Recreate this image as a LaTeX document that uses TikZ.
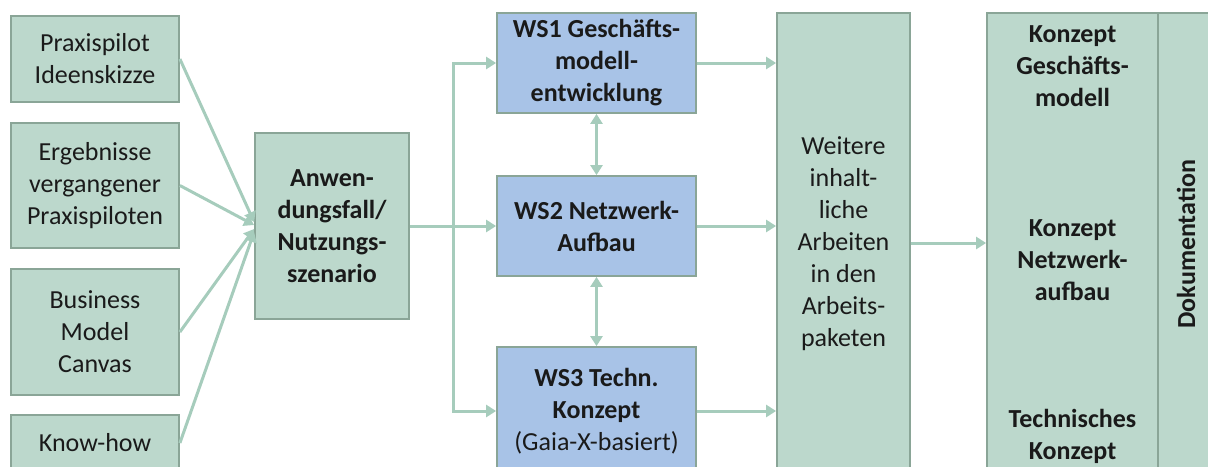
\documentclass[tikz,border=0pt]{standalone}
\usepackage{fontspec}
\setmainfont{Carlito}
\usetikzlibrary{arrows.meta,calc}
\usepackage{xcolor}
\definecolor{gruen}{HTML}{BCD8CC}
\definecolor{rand}{HTML}{8AA597}
\definecolor{blau}{HTML}{A8C3E7}
\definecolor{pfeil}{HTML}{A6CCBC}
\definecolor{schrift}{HTML}{1A1A1A}

\begin{document}
\begin{tikzpicture}[x=0.5pt, y=-0.5pt,
    font=\fontsize{13}{16}\selectfont, text=schrift,
    gbox/.style={draw=rand, fill=gruen, line width=0.9pt, align=center, inner sep=0pt},
    wsbox/.style={gbox, fill=blau, font=\fontsize{13}{16}\selectfont\bfseries},
    arr/.style={draw=pfeil, line width=1.5pt, -{Triangle[length=5pt, width=6pt]}},
    darr/.style={arr, {Triangle[length=5pt, width=6pt]}-{Triangle[length=5pt, width=6pt]}}]
    \useasboundingbox (0,0) rectangle (1208,466);
    \clip (0,0) rectangle (1208,466);
    % Eingaben links
    \node[gbox, minimum width=84pt, minimum height=43pt] (pilot) at (95,59) {Praxispilot\\Ideenskizze};
    \node[gbox, minimum width=84pt, minimum height=62.5pt] (ergeb) at (95,185.5) {Ergebnisse\\vergangener\\Praxispiloten};
    \node[gbox, minimum width=84pt, minimum height=63pt] (canvas) at (95,332) {Business\\Model\\Canvas};
    \node[gbox, minimum width=84pt, minimum height=28pt] (know) at (95,443) {Know-how};
    \node[gbox, minimum width=77pt, minimum height=93pt, font=\fontsize{13}{16}\selectfont\bfseries] (anw) at (332,226)
      {Anwen-\\dungsfall/\\Nutzungs-\\szenario};
    % Workstreams
    \node[wsbox, minimum width=99.5pt, minimum height=50pt] (ws1) at (596.5,63) {WS1 Geschäfts-\\modell-\\entwicklung};
    \node[wsbox, minimum width=99.5pt, minimum height=50pt] (ws2) at (596.5,226) {WS2 Netzwerk-\\Aufbau};
    \node[wsbox, minimum width=99.5pt, minimum height=64pt] (ws3) at (596.5,411) {WS3 Techn.\\Konzept\\\mdseries(Gaia-X-basiert)};
    \node[gbox, minimum width=66.5pt, minimum height=231pt] (weitere) at (843.5,244)
      {Weitere\\inhalt-\\liche\\Arbeiten\\in den\\Arbeits-\\paketen};
    % Ergebnisse rechts
    \node[gbox, minimum width=85.5pt, minimum height=231pt] (konzept) at (1072.5,244) {};
    \node[gbox, rotate=90, minimum width=231pt, minimum height=28pt, font=\fontsize{13}{16}\selectfont\bfseries] (doku) at (1186,244) {Dokumentation};
    \node[align=center, font=\fontsize{13}{16}\selectfont\bfseries] (kgm) at (1072.5,66) {Konzept\\Geschäfts-\\modell};
    \node[align=center, font=\fontsize{13}{16}\selectfont\bfseries] (knw) at (1072.5,260) {Konzept\\Netzwerk-\\aufbau};
    \node[align=center, font=\fontsize{13}{16}\selectfont\bfseries] (ktk) at (1072.5,436) {Technisches\\Konzept};
    % Pfeile
    \draw[arr] (pilot.east) -- ([yshift=2pt]anw.west);
    \draw[arr] (ergeb.east) -- ([yshift=0.5pt]anw.west);
    \draw[arr] (canvas.east) -- ([yshift=-1.5pt]anw.west);
    \draw[arr] (know.east) -- ([yshift=-3pt]anw.west);
    \coordinate (split) at (453,226);
    \draw[arr] (anw.east) -- (ws2.west);
    \draw[arr] (split) |- (ws1.west);
    \draw[arr] (split) |- (ws3.west);
    \draw[darr] (ws1.south) -- (ws2.north);
    \draw[darr] (ws2.south) -- (ws3.north);
    \draw[arr] (ws1.east) -- (ws1.east -| weitere.west);
    \draw[arr] (ws2.east) -- (ws2.east -| weitere.west);
    \draw[arr] (ws3.east) -- (ws3.east -| weitere.west);
    \draw[arr] ($(weitere.east)+(0,-1)$) -- ($(konzept.west)+(0,-1)$);
\end{tikzpicture}
\end{document}
